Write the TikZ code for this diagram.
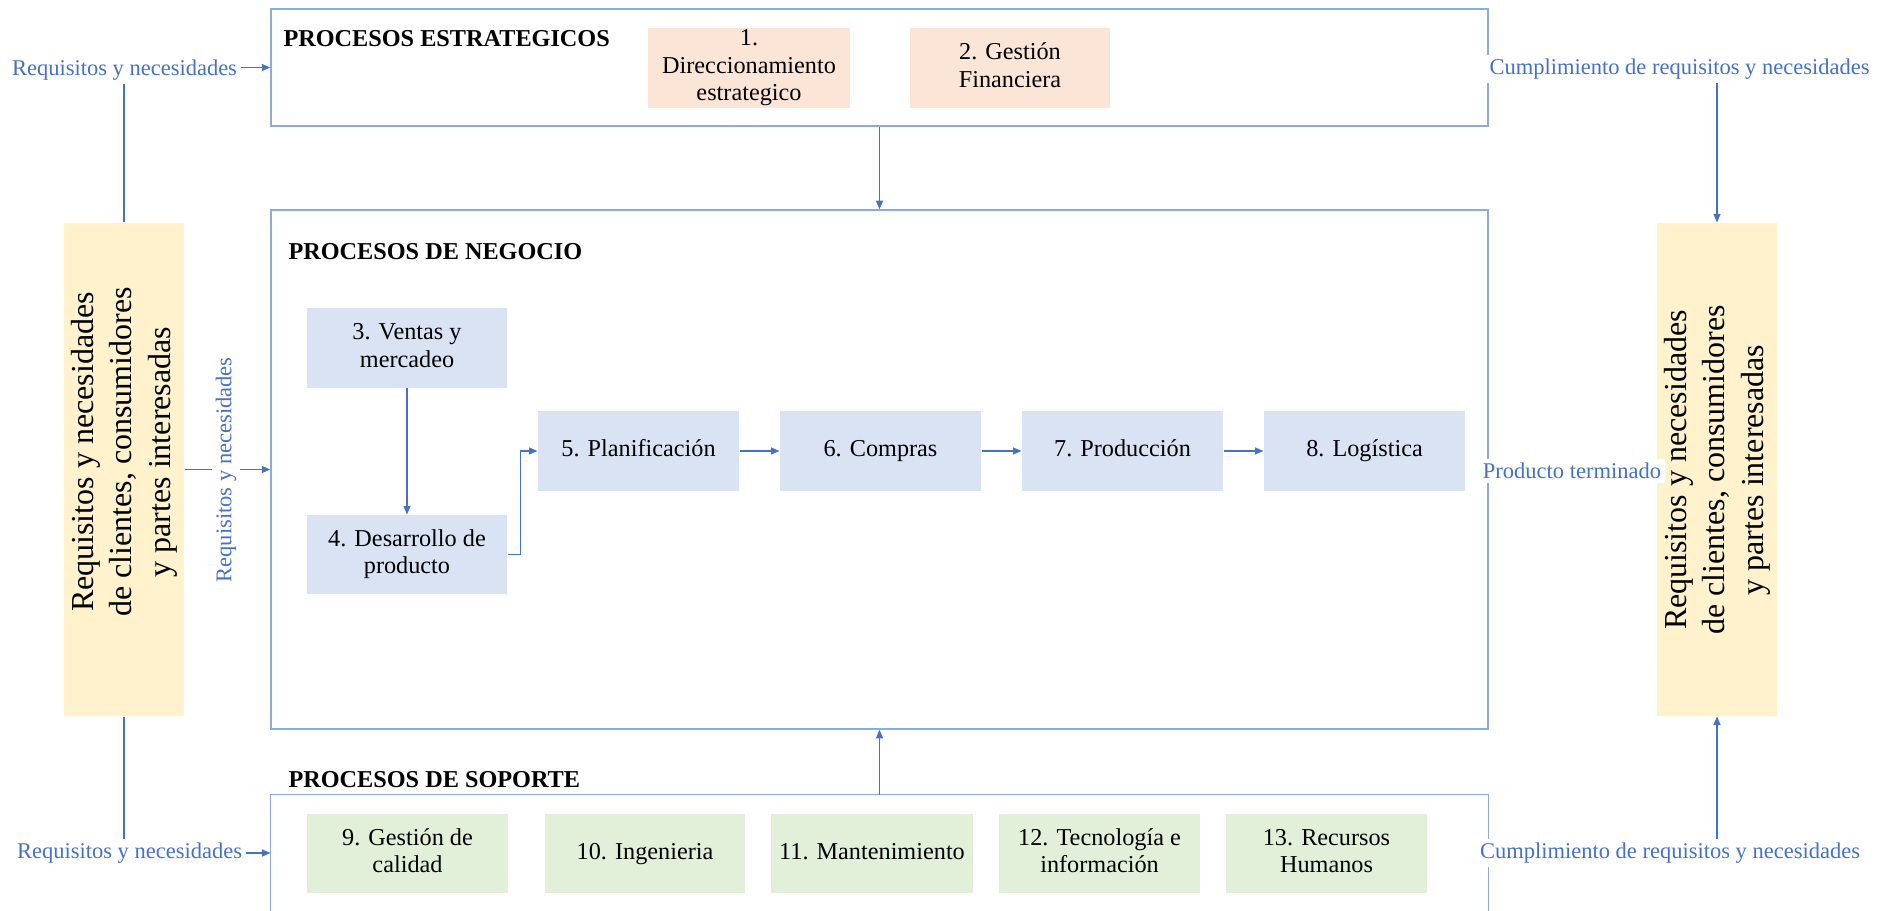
\documentclass[tikz,border=0pt]{standalone}
\usepackage{fontspec}
\setmainfont{Liberation Serif}
\usetikzlibrary{arrows.meta}
\definecolor{frameblue}{RGB}{143,170,220}
\definecolor{ablue}{RGB}{68,114,196}
\definecolor{peach}{RGB}{251,229,214}
\definecolor{lblue}{RGB}{218,227,243}
\definecolor{lgreen}{RGB}{226,240,217}
\definecolor{lyellow}{RGB}{255,242,204}
\newcommand{\rbox}[7]{\node[#1, minimum width={(#5-#3)*0.4pt}, minimum height={(#6-#4)*0.4pt}] (#2) at ({(#3+#5)/2},{(#4+#6)/2}) {#7};}
\newcommand{\tx}[1]{\strut#1\strut}
\tikzset{
  frame/.style={draw=frameblue, line width=0.6pt, inner sep=0pt},
  ghost/.style={inner sep=0pt},
  pbox/.style={inner sep=0pt, align=center, font=\fontsize{9.7}{11}\selectfont},
  stratbox/.style={pbox, fill=peach},
  negbox/.style={pbox, fill=lblue},
  supbox/.style={pbox, fill=lgreen},
  ybox/.style={inner sep=0pt, fill=lyellow},
  ytext/.style={rotate=90, align=center, inner sep=0pt, font=\fontsize{12.8}{15.4}\selectfont},
  head/.style={anchor=west, inner sep=0pt, font=\fontsize{9.7}{11}\selectfont\bfseries},
  blab/.style={fill=white, inner sep=1.5pt, text=ablue, font=\fontsize{9}{10.5}\selectfont},
  arr/.style={draw=ablue, line width=0.45pt, -{Triangle[length=3.4pt,width=2.8pt]}},
  plain/.style={draw=ablue, line width=0.45pt}
}
\begin{document}
\begin{tikzpicture}[x=0.4pt,y=-0.4pt]
\useasboundingbox (0,0) rectangle (1884,911);
% containers
\rbox{frame}{strat}{271}{9}{1488}{126}{}
\rbox{frame}{neg}{271}{210}{1488}{729}{}
\rbox{ghost}{sop}{271}{795}{1488}{911}{}
\draw[draw=frameblue, line width=0.6pt] (sop.south west) -- (sop.north west) -- (sop.north east) -- (sop.south east);
% headers
\node[head] (hE) at (283,39) {PROCESOS ESTRATEGICOS};
\node[head] (hN) at (288,252) {PROCESOS DE NEGOCIO};
\node[head] (hS) at (288,780) {PROCESOS DE SOPORTE};
% strategic processes
\rbox{stratbox}{b1}{648}{28}{850}{108}{1.\\Direccionamiento\\estrategico}
\rbox{stratbox}{b2}{910}{28}{1110}{108}{\tx{2. Gestión\\Financiera}}
% business processes
\rbox{negbox}{b3}{307}{308}{507}{388}{\tx{3. Ventas y\\mercadeo}}
\rbox{negbox}{b4}{307}{515}{507}{594}{\tx{4. Desarrollo de\\producto}}
\rbox{negbox}{b5}{538}{411}{739}{491}{\tx{5. Planificación}}
\rbox{negbox}{b6}{780}{411}{981}{491}{\tx{6. Compras}}
\rbox{negbox}{b7}{1022}{411}{1223}{491}{\tx{7. Producción}}
\rbox{negbox}{b8}{1264}{411}{1465}{491}{\tx{8. Logística}}
% support processes
\rbox{supbox}{b9}{307}{814}{508}{893}{\tx{9. Gestión de\\calidad}}
\rbox{supbox}{b10}{545}{814}{745}{893}{\tx{10. Ingenieria}}
\rbox{supbox}{b11}{771}{814}{973}{893}{\tx{11. Mantenimiento}}
\rbox{supbox}{b12}{999}{814}{1200}{893}{\tx{12. Tecnología e\\información}}
\rbox{supbox}{b13}{1226}{814}{1427}{893}{\tx{13. Recursos\\Humanos}}
% stakeholder boxes
\rbox{ybox}{yL}{64}{223}{184}{716}{}
\rbox{ybox}{yR}{1657}{223}{1777}{716}{}
\node[ytext] (tL) at (124,452) {Requisitos y necesidades\\de clientes, consumidores\\y partes interesadas};
\node[ytext] (tR) at (1717,470) {Requisitos y necesidades\\de clientes, consumidores\\y partes interesadas};
% connectors
\draw[arr] (yL.north) |- (strat.west);
\draw[arr] (strat.east) -| (yR.north);
\draw[arr] (strat.south) -- (neg.north);
\draw[arr] (yL.east) -- (neg.west);
\draw[plain] (neg.east) -- (yR.west);
\draw[arr] (yL.south) |- (sop.west);
\draw[arr] (sop.east) -| (yR.south);
\draw[arr] (sop.north) -- (neg.south);
\draw[arr] (b3) -- (b4);
\draw[arr] (b4.east) -- ++(13,0) |- (b5.west);
\draw[arr] (b5) -- (b6);
\draw[arr] (b6) -- (b7);
\draw[arr] (b7) -- (b8);
% labels
\node[blab] (l1) at (124.5,70) {Requisitos y necesidades};
\node[blab] (l2) at (1679.5,69) {Cumplimiento de requisitos y necesidades};
\node[blab, rotate=90] (l3) at (226,470) {Requisitos y necesidades};
\node[blab] (l4) at (1572,471) {Producto terminado};
\node[blab] (l5) at (129.5,853) {Requisitos y necesidades};
\node[blab] (l6) at (1670,853) {Cumplimiento de requisitos y necesidades};
\end{tikzpicture}
\end{document}
